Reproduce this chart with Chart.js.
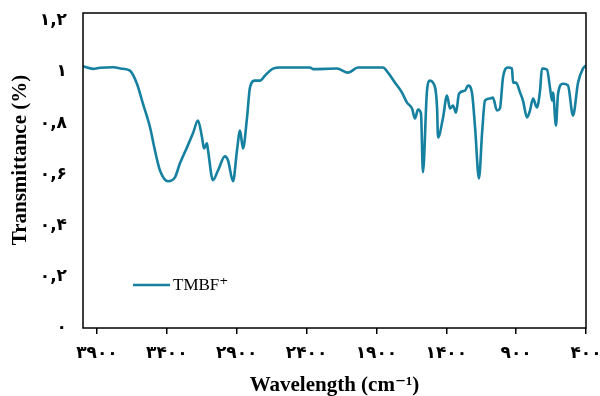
<!DOCTYPE html>
<html>
<head>
<meta charset="utf-8">
<script src="https://cdn.jsdelivr.net/npm/chart.js@4"></script>
<style>
  html, body { margin: 0; padding: 0; background: #fff; }
  #wrap { width: 600px; height: 396px; }
</style>
</head>
<body>
<div id="wrap"><canvas id="ftirChart" width="600" height="396"></canvas></div>
<script>
// spectrum
const wavenumbers = [4000, 3928, 3878, 3785, 3714, 3664, 3614, 3571, 3520, 3485, 3449, 3392, 3342, 3306, 3256, 3213, 3177,
  3148, 3134, 3113, 3105, 3070, 3034, 2984, 2962, 2926, 2898, 2876, 2855, 2826, 2805, 2769, 2733, 2697, 2640, 2590,
  2375, 2354, 2182, 2103, 2032, 1853, 1817, 1767, 1717, 1681, 1645, 1624, 1602, 1581, 1567, 1538, 1517, 1495, 1466,
  1459, 1423, 1395, 1373, 1352, 1330, 1309, 1266, 1244, 1216, 1194, 1166, 1144, 1123, 1087, 1066, 1037, 1016, 994,
  958, 930, 922, 901, 872, 851, 822, 801, 779, 751, 729, 715, 679, 658, 643, 636, 615, 600, 565, 529, 493, 457, 422, 400];
const transmittance = [1.022, 1.012, 1.016, 1.018, 1.012, 1.005, 0.954, 0.876, 0.783, 0.693, 0.615, 0.573, 0.588, 0.643, 0.705, 0.760, 0.810,
  0.744, 0.701, 0.721, 0.693, 0.577, 0.615, 0.670, 0.654, 0.573, 0.693, 0.771, 0.701, 0.822, 0.939, 0.966, 0.966, 0.986, 1.013, 1.017,
  1.017, 1.011, 1.013, 0.997, 1.017, 1.017, 0.997, 0.958, 0.919, 0.880, 0.857, 0.818, 0.853, 0.838, 0.608, 0.927, 0.966, 0.958, 0.861,
  0.744, 0.822, 0.908, 0.857, 0.869, 0.841, 0.915, 0.927, 0.947, 0.919, 0.783, 0.584, 0.760, 0.888, 0.896, 0.900, 0.849, 0.857, 0.978,
  1.017, 1.013, 0.958, 0.958, 0.919, 0.888, 0.822, 0.849, 0.896, 0.861, 0.927, 1.013, 1.009, 0.939, 0.888, 0.919, 0.791, 0.915, 0.954, 0.947, 0.830, 0.958, 1.013, 1.025];
const xTicks = [3900, 3400, 2900, 2400, 1900, 1400, 900, 400];
const yTicks = [0, 0.2, 0.4, 0.6, 0.8, 1, 1.2];
const seriesName = 'TMBF\u207A';

const lineColor = '#15809f';
const serif = "'Liberation Serif', 'Times New Roman', 'DejaVu Serif', serif";
const digitFont = "'DejaVu Sans', 'Liberation Serif', sans-serif";

function toPersian(v) {
  const s = String(Math.round(v * 10) / 10).replace('.', ',');
  return s.replace(/[0-9]/g, d => '۰۱۲۳۴۵۶۷۸۹'[d]);
}

// frame around the plot + legend inside
const framePlugin = {
  id: 'frame',
  afterDraw(chart) {
    const { ctx, chartArea: a } = chart;
    ctx.save();
    ctx.strokeStyle = '#000';
    ctx.lineWidth = 1.5;
    ctx.strokeRect(a.left, a.top, a.right - a.left, a.bottom - a.top);
    // legend
    ctx.strokeStyle = lineColor;
    ctx.lineWidth = 2.5;
    ctx.beginPath();
    ctx.moveTo(133, 285);
    ctx.lineTo(170, 285);
    ctx.stroke();
    ctx.fillStyle = '#000';
    ctx.font = '17px ' + serif;
    ctx.textBaseline = 'middle';
    ctx.fillText(seriesName, 173, 286);
    ctx.restore();
  }
};

new Chart(document.getElementById('ftirChart'), {
  type: 'line',
  data: {
    datasets: [{
      label: seriesName,
      data: wavenumbers.map((w, i) => ({ x: w, y: transmittance[i] })),
      borderColor: lineColor,
      borderWidth: 2.6,
      pointRadius: 0,
      cubicInterpolationMode: 'monotone',
      fill: false
    }]
  },
  options: {
    responsive: false,
    animation: false,
    layout: { padding: { top: 13, right: 14, left: 0, bottom: 0 } },
    plugins: { legend: { display: false }, tooltip: { enabled: false } },
    scales: {
      x: {
        type: 'linear',
        reverse: true,
        min: 400,
        max: 4000,
        afterBuildTicks: axis => { axis.ticks = xTicks.map(v => ({ value: v })); },
        afterFit: axis => { axis.height = 68; axis.paddingLeft = 0; axis.paddingRight = 0; },
        border: { display: false },
        grid: { display: true, drawOnChartArea: false, color: '#000', lineWidth: 1.5, tickLength: 6 },
        ticks: {
          color: '#000',
          maxRotation: 0,
          autoSkip: false,
          padding: 9,
          font: { size: 17, weight: 'bold', family: digitFont },
          callback: v => toPersian(v)
        },
        title: {
          display: true,
          text: 'Wavelength (cm\u207B\u00B9)',
          color: '#000',
          padding: { top: 6, bottom: 0 },
          font: { size: 21, weight: 'bold', family: serif, lineHeight: 1.0 }
        }
      },
      y: {
        min: 0,
        max: 1.23,
        afterBuildTicks: axis => { axis.ticks = yTicks.map(v => ({ value: v })); },
        afterFit: axis => { axis.width = 83; axis.paddingTop = 0; axis.paddingBottom = 0; },
        border: { display: false },
        grid: { display: false },
        ticks: {
          color: '#000',
          padding: 8,
          font: { size: 17, weight: 'bold', family: digitFont },
          callback: v => toPersian(v)
        },
        title: {
          display: true,
          text: '\u2003Transmittance (%)',
          color: '#000',
          padding: { top: 8, bottom: 2 },
          font: { size: 21, weight: 'bold', family: serif }
        }
      }
    }
  },
  plugins: [framePlugin]
});
</script>
</body>
</html>
